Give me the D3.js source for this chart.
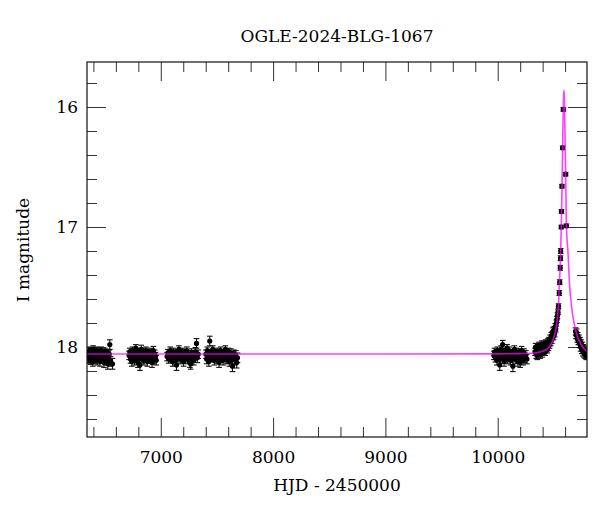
<!DOCTYPE html>
<html><head><meta charset="utf-8">
<script src="https://cdn.jsdelivr.net/npm/d3@7"></script>
<style>body{margin:0;background:#fff}svg{display:block}</style>
</head><body><svg id="c" width="600" height="512"></svg>
<script>
const chartTitle = "OGLE-2024-BLG-1067";
const xLabel = "HJD - 2450000";
const yLabel = "I magnitude";
const xMajorTicks = [7000, 8000, 9000, 10000];
const yMajorTicks = [16, 17, 18];
const xDomain = [6343, 10795];
const yDomain = [15.625, 18.75];

// [HJD-2450000, I mag, error]
const season2013 = [
[6346,18.08,.035],[6351,18.05,.03],[6355,18.10,.035],[6360,18.06,.03],[6364,18.03,.03],[6368,18.09,.04],
[6372,18.07,.03],[6377,18.11,.035],[6381,18.04,.03],[6385,18.08,.035],[6390,18.06,.03],[6394,18.12,.04],
[6398,18.02,.03],[6403,18.07,.035],[6407,18.09,.035],[6411,18.05,.03],[6416,18.10,.04],[6420,18.06,.03],
[6424,18.03,.03],[6429,18.08,.035],[6433,18.11,.04],[6437,18.05,.03],[6442,18.07,.035],[6446,18.09,.035],
[6450,18.04,.03],[6455,18.06,.03],[6459,18.12,.04],[6463,18.08,.035],[6468,18.03,.03],[6472,18.07,.035],
[6476,18.10,.035],[6481,18.05,.03],[6485,18.09,.04],[6489,18.06,.03],[6494,18.13,.04],[6498,18.07,.035],
[6502,18.04,.03],[6507,18.08,.035],[6511,18.11,.04],[6515,18.06,.03],[6520,18.09,.035],[6524,18.05,.03],
[6528,18.14,.045],[6533,18.07,.035],[6537,18.10,.04],[6541,18.06,.035],[6546,17.98,.04],[6553,18.12,.04],
[6570,18.14,.045]
];
const season2014 = [
[6718,18.07,.035],[6724,18.04,.03],[6730,18.10,.035],[6736,18.06,.03],[6742,18.12,.04],[6748,18.03,.03],
[6754,18.08,.035],[6760,18.05,.03],[6766,18.11,.04],[6772,18.07,.035],[6778,18.01,.03],[6784,18.09,.035],
[6790,18.06,.03],[6796,18.13,.04],[6802,18.04,.03],[6808,18.08,.035],[6814,18.15,.045],[6820,18.06,.03],
[6826,18.02,.035],[6832,18.10,.035],[6838,18.07,.035],[6844,18.04,.03],[6850,18.11,.04],[6856,18.06,.03],
[6862,18.09,.035],[6868,18.03,.03],[6874,18.08,.035],[6880,18.12,.04],[6886,18.05,.03],[6892,18.07,.035],
[6898,18.10,.035],[6904,18.04,.03],[6910,18.09,.04],[6916,18.06,.03],[6922,18.13,.04],[6928,18.07,.035],
[6934,18.03,.035],[6940,18.10,.04],[6946,18.06,.035],[6952,18.08,.035],[6959,18.11,.04]
];
const season2015 = [
[7056,18.08,.035],[7063,18.05,.03],[7070,18.10,.035],[7077,18.06,.03],[7084,18.03,.03],[7091,18.09,.035],
[7098,18.07,.035],[7105,18.12,.04],[7112,18.04,.03],[7119,18.08,.035],[7126,18.06,.03],[7133,18.11,.04],
[7140,18.15,.045],[7147,18.05,.03],[7154,18.09,.035],[7161,18.02,.03],[7168,18.07,.035],[7175,18.10,.04],
[7182,18.06,.03],[7189,18.04,.03],[7196,18.08,.035],[7203,18.12,.04],[7210,18.05,.03],[7217,18.09,.035],
[7224,18.07,.035],[7231,18.03,.03],[7238,18.10,.04],[7245,18.06,.03],[7252,18.08,.035],[7259,18.13,.04],
[7266,18.14,.045],[7273,18.05,.035],[7280,18.09,.035],[7287,18.06,.03],[7294,18.11,.04],[7301,18.07,.035],
[7308,18.04,.035],[7318,17.97,.04],[7325,18.09,.04],[7333,18.06,.035]
];
const season2016 = [
[7402,18.06,.035],[7408,18.10,.04],[7414,18.03,.03],[7420,18.08,.035],[7428,18.12,.04],[7436,17.95,.04],
[7442,18.05,.03],[7449,18.09,.035],[7456,18.06,.03],[7463,18.02,.03],[7470,18.08,.035],[7477,18.11,.04],
[7484,18.05,.03],[7491,18.07,.035],[7498,18.10,.035],[7505,18.04,.03],[7512,18.08,.035],[7519,18.13,.04],
[7526,18.06,.03],[7533,18.03,.03],[7540,18.09,.035],[7547,18.07,.035],[7554,18.11,.04],[7561,18.05,.03],
[7568,18.08,.035],[7575,18.02,.03],[7582,18.10,.04],[7589,18.06,.035],[7596,18.09,.035],[7603,18.04,.03],
[7610,18.12,.04],[7617,18.07,.035],[7624,18.05,.035],[7631,18.10,.04],[7638,18.16,.045],[7645,18.08,.04],
[7652,18.06,.035],[7660,18.11,.04],[7668,18.07,.04],[7676,18.13,.045],[7683,18.09,.04]
];
const season2023 = [
[9966,18.07,.035],[9972,18.04,.03],[9979,18.09,.035],[9985,18.06,.03],[9992,18.11,.04],[9998,18.03,.03],
[10005,18.08,.035],[10011,18.05,.03],[10018,18.15,.045],[10024,18.10,.035],[10031,18.02,.03],[10037,18.07,.035],
[10044,17.98,.035],[10050,18.06,.03],[10057,18.12,.04],[10063,18.04,.03],[10070,18.09,.035],[10076,18.06,.03],
[10083,18.01,.03],[10089,18.10,.04],[10096,18.07,.035],[10102,18.03,.03],[10109,18.08,.035],[10115,18.11,.04],
[10122,18.05,.03],[10128,18.09,.035],[10135,18.16,.045],[10141,18.06,.03],[10148,18.02,.03],[10154,18.08,.035],
[10161,18.10,.04],[10167,18.04,.03],[10174,18.07,.035],[10180,18.12,.04],[10187,18.05,.035],[10193,18.09,.035],
[10200,18.13,.04],[10207,18.06,.035],[10213,18.03,.035],[10220,18.08,.035],[10227,18.11,.04],[10234,18.05,.035],
[10241,18.09,.04],[10250,18.07,.04],[10260,18.10,.04]
];
const season2024 = [
[10332,18.04,.03],[10337,18.00,.03],[10342,18.06,.035],[10347,18.02,.03],[10352,18.07,.035],[10357,18.01,.03],
[10362,18.05,.03],[10367,17.99,.03],[10372,18.04,.035],[10377,18.06,.035],[10382,18.00,.03],[10387,18.03,.03],
[10392,17.98,.03],[10397,18.05,.035],[10402,18.01,.03],[10407,17.98,.03],[10412,18.03,.03],[10417,18.00,.03],
[10422,18.04,.03],[10427,17.97,.03],[10432,18.01,.03],[10437,17.98,.03],[10442,18.02,.03],[10447,17.96,.03],
[10452,18.00,.03],[10457,17.95,.03],[10462,17.98,.03],[10467,17.93,.03],[10472,17.96,.03],[10477,17.91,.03],
[10482,17.94,.03],[10487,17.90,.03],[10492,17.87,.03],[10497,17.91,.03],[10502,17.86,.03],[10507,17.89,.025],
[10512,17.83,.025],[10517,17.85,.025],[10522,17.80,.025],[10527,17.77,.025],[10532,17.74,.025],[10537,17.71,.02],
[10541,17.66,.02],[10548,17.55,.02],[10552,17.46,.02],[10557,17.34,.02],[10559,17.26,.02],[10561,17.20,.02],
[10566,17.00,.015],[10568,16.87,.015],[10572,16.66,.015],[10578,16.34,.015],[10584,16.02,.015],[10605,16.56,.015],
[10612,16.99,.015],
[10693,17.87,.03],[10698,17.90,.03],[10703,17.88,.03],[10708,17.93,.03],[10713,17.91,.03],[10718,17.95,.03],
[10723,17.93,.03],[10728,17.97,.035],[10733,17.95,.03],[10738,18.00,.035],[10743,17.97,.03],[10748,18.02,.035],
[10753,17.99,.03],[10758,18.04,.035],[10763,18.01,.03],[10768,18.05,.035],[10773,18.02,.03],[10778,18.06,.035],
[10783,18.03,.03],[10788,18.07,.035],[10793,18.04,.035]
];
// model light curve: [HJD-2450000, I mag]
const modelCurve = [
[6343,18.058],[9000,18.058],[10000,18.057],[10200,18.055],[10300,18.052],[10344,18.048],[10400,18.035],
[10447,18.011],[10480,17.97],[10501,17.914],[10522,17.831],[10540,17.664],[10551,17.442],[10560,17.217],
[10566,16.998],[10572,16.70],[10577,16.40],[10582,16.10],[10586,15.92],[10589,15.86],[10592,15.90],
[10597,16.10],[10602,16.40],[10607,16.70],[10611,16.967],[10626,17.217],[10641,17.497],[10655,17.64],
[10670,17.747],[10700,17.883],[10745,17.983],[10795,18.039]
];

const W = 600, H = 512;
const M = {l: 87, r: 13, t: 62, b: 75};
const FONT = "'DejaVu Serif', serif";
const svg = d3.select("#c");
const x = d3.scaleLinear().domain(xDomain).range([M.l, W - M.r]);
const y = d3.scaleLinear().domain(yDomain).range([M.t, H - M.b]);

const xMinor = d3.range(6400, 10800, 200).filter(v => v % 1000 !== 0);
const yMinor = d3.range(15.8, 18.7, 0.2).map(v => +v.toFixed(1)).filter(v => Math.abs(v - Math.round(v)) > 1e-6);

function styleAxis(g) {
  g.select(".domain").remove();
  g.selectAll("line").attr("stroke", "#333").attr("stroke-width", 1);
  g.attr("font-family", FONT).attr("font-size", 17).attr("color", "#000");
}

// bottom
svg.append("g").attr("transform", `translate(0,${H - M.b})`)
  .call(d3.axisBottom(x).tickValues(xMajorTicks).tickSize(-19).tickPadding(14).tickFormat(d3.format("d"))).call(styleAxis);
svg.append("g").attr("transform", `translate(0,${H - M.b})`)
  .call(d3.axisBottom(x).tickValues(xMinor).tickSize(-10).tickFormat("")).call(styleAxis);
// top
svg.append("g").attr("transform", `translate(0,${M.t})`)
  .call(d3.axisTop(x).tickValues(xMajorTicks).tickSize(-19).tickFormat("")).call(styleAxis);
svg.append("g").attr("transform", `translate(0,${M.t})`)
  .call(d3.axisTop(x).tickValues(xMinor).tickSize(-10).tickFormat("")).call(styleAxis);
// left
svg.append("g").attr("transform", `translate(${M.l},0)`)
  .call(d3.axisLeft(y).tickValues(yMajorTicks).tickSize(-19).tickPadding(9).tickFormat(d3.format("d"))).call(styleAxis);
svg.append("g").attr("transform", `translate(${M.l},0)`)
  .call(d3.axisLeft(y).tickValues(yMinor).tickSize(-10).tickFormat("")).call(styleAxis);
// right
svg.append("g").attr("transform", `translate(${W - M.r},0)`)
  .call(d3.axisRight(y).tickValues(yMajorTicks).tickSize(-19).tickFormat("")).call(styleAxis);
svg.append("g").attr("transform", `translate(${W - M.r},0)`)
  .call(d3.axisRight(y).tickValues(yMinor).tickSize(-10).tickFormat("")).call(styleAxis);

// clip
svg.append("defs").append("clipPath").attr("id", "plotclip")
  .append("rect").attr("x", M.l).attr("y", M.t).attr("width", W - M.l - M.r).attr("height", H - M.t - M.b);

const data = [].concat(season2013, season2014, season2015, season2016, season2023, season2024);
const pts = svg.append("g").attr("clip-path", "url(#plotclip)");
const cap = 2.8;
const eb = pts.append("g").attr("stroke", "#111").attr("stroke-width", 1.1);
data.forEach(d => {
  const cx = x(d[0]), y1 = y(d[1] - d[2]), y2 = y(d[1] + d[2]);
  eb.append("line").attr("x1", cx).attr("x2", cx).attr("y1", y1).attr("y2", y2);
  eb.append("line").attr("x1", cx - cap).attr("x2", cx + cap).attr("y1", y1).attr("y2", y1);
  eb.append("line").attr("x1", cx - cap).attr("x2", cx + cap).attr("y1", y2).attr("y2", y2);
});
pts.append("g").selectAll("circle").data(data).join("circle")
  .attr("cx", d => x(d[0])).attr("cy", d => y(d[1])).attr("r", 2.6).attr("fill", "#000");

// model
pts.append("path").datum(modelCurve)
  .attr("fill", "none").attr("stroke", "#ff00ff").attr("stroke-width", 1.6).attr("stroke-opacity", 0.75)
  .attr("d", d3.line().x(d => x(d[0])).y(d => y(d[1])).curve(d3.curveMonotoneX));

// frame
svg.append("rect").attr("x", M.l).attr("y", M.t).attr("width", W - M.l - M.r).attr("height", H - M.t - M.b)
  .attr("fill", "none").attr("stroke", "#111").attr("stroke-width", 1.2);

// texts
svg.append("text").attr("x", (M.l + W - M.r) / 2).attr("y", 42).attr("text-anchor", "middle")
  .attr("font-family", FONT).attr("font-size", 17).text(chartTitle);
svg.append("text").attr("x", (M.l + W - M.r) / 2).attr("y", 491).attr("text-anchor", "middle")
  .attr("font-family", FONT).attr("font-size", 17).text(xLabel);
svg.append("text").attr("transform", "translate(29,250) rotate(-90)").attr("text-anchor", "middle")
  .attr("font-family", FONT).attr("font-size", 17).text(yLabel);
</script>
</body></html>
